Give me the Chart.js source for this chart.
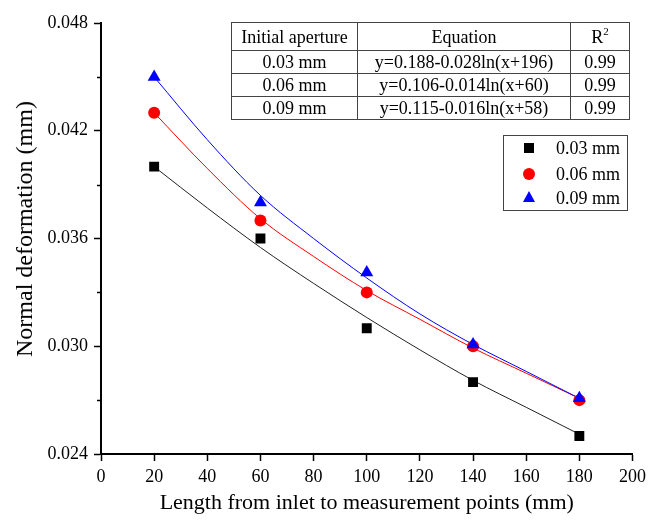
<!DOCTYPE html>
<html>
<head>
<meta charset="utf-8">
<script src="https://cdn.jsdelivr.net/npm/chart.js@4/dist/chart.umd.min.js"></script>
<style>
  html, body { margin: 0; padding: 0; background: #fff; }
  #wrap { position: relative; width: 651px; height: 523px; font-family: 'Liberation Serif', 'Times New Roman', serif; color: #000; }
  #c { position: absolute; left: 0; top: 0; }
  #ytitle { position: absolute; left: 23.6px; top: 229px; transform: translate(-50%, -50%) rotate(-90deg); white-space: nowrap; font-size: 24px; line-height: 24px; }
  #tbl { position: absolute; left: 231px; top: 22px; border-collapse: collapse; font-size: 18px; }
  #tbl td { border: 1px solid #444; padding: 0; text-align: center; vertical-align: middle; line-height: 18px; white-space: nowrap; }
  #tbl tr.h td { height: 27px; }
  #tbl tr.r td { height: 22px; }
  #tbl sup { font-size: 11px; vertical-align: 8px; line-height: 0; }
  #legend { position: absolute; left: 503px; top: 135px; width: 123px; height: 74px; border: 1px solid #444; font-size: 18px; }
  .li { position: absolute; left: 0; height: 20px; width: 123px; }
  .li span.t { position: absolute; left: 52px; top: 0; line-height: 20px; }
  .mk { position: absolute; }
  .sq { width: 10px; height: 10px; background: #000; left: 20px; top: 5px; }
  .ci { width: 12px; height: 12px; border-radius: 50%; background: #f00; left: 19px; top: 4px; }
  .tr { width: 0; height: 0; border-left: 6.5px solid transparent; border-right: 6.5px solid transparent; border-bottom: 11px solid #00f; left: 18.5px; top: 3px; }
</style>
</head>
<body>
<div id="wrap">
  <canvas id="c" width="651" height="523"></canvas>
  <div id="ytitle">Normal deformation (mm)</div>
  <table id="tbl"></table>
  <div id="legend"></div>
</div>
<script>
// ---- Data ----
const xPoints = [20, 60, 100, 140, 180];
const seriesNames = ['0.03 mm', '0.06 mm', '0.09 mm'];
const meas003 = [0.0400, 0.0360, 0.0310, 0.0280, 0.0250];
const meas006 = [0.0430, 0.0370, 0.0330, 0.0300, 0.0270];
const meas009 = [0.0450, 0.0380, 0.0341, 0.0301, 0.0271];

// fitted curves, read at intervals from the picture
const fitX = [20, 40, 60, 80, 100, 120, 140, 160, 180];
const fit003 = [0.0400, 0.0377, 0.0355, 0.0335, 0.0316, 0.0298, 0.0281, 0.0266, 0.0251];
const fit006 = [0.0430, 0.0399, 0.0371, 0.0350, 0.0331, 0.0315, 0.0299, 0.0285, 0.0271];
const fit009 = [0.0450, 0.0415, 0.0384, 0.0360, 0.0338, 0.0318, 0.0301, 0.0286, 0.0271];

// axes
const xTicks = [0, 20, 40, 60, 80, 100, 120, 140, 160, 180, 200];
const yTicks = [0.024, 0.030, 0.036, 0.042, 0.048];
const yTickLabels = ['0.024', '0.030', '0.036', '0.042', '0.048'];
const yMinorTicks = [0.027, 0.033, 0.039, 0.045];
const xTitle = 'Length from inlet to measurement points (mm)';

// table
const tableHeader = ['Initial aperture', 'Equation', 'R'];
const tableApertures = ['0.03 mm', '0.06 mm', '0.09 mm'];
const tableEquations = ['y=0.188-0.028ln(x+196)', 'y=0.106-0.014ln(x+60)', 'y=0.115-0.016ln(x+58)'];
const tableR2 = ['0.99', '0.99', '0.99'];

// ---- Table ----
(function buildTable() {
  const t = document.getElementById('tbl');
  const colW = [125, 212, 58];
  let html = '<tr class="h">';
  html += `<td style="width:${colW[0]}px">${tableHeader[0]}</td>`;
  html += `<td style="width:${colW[1]}px">${tableHeader[1]}</td>`;
  html += `<td style="width:${colW[2]}px">${tableHeader[2]}<sup>2</sup></td></tr>`;
  for (let i = 0; i < tableApertures.length; i++) {
    html += `<tr class="r"><td>${tableApertures[i]}</td><td>${tableEquations[i]}</td><td>${tableR2[i]}</td></tr>`;
  }
  t.innerHTML = html;
})();

// ---- Legend ----
(function buildLegend() {
  const lg = document.getElementById('legend');
  const cls = ['sq', 'ci', 'tr'];
  const tops = [2, 28, 52];
  lg.innerHTML = seriesNames.map((n, i) =>
    `<div class="li" style="top:${tops[i]}px"><div class="mk ${cls[i]}"></div><span class="t">${n}</span></div>`
  ).join('');
})();

const toXY = (xs, ys) => xs.map((x, i) => ({ x: x, y: ys[i] }));

const minorTickPlugin = {
  id: 'minorTicks',
  afterDraw(chart) {
    const ys = chart.scales.y;
    const ctx = chart.ctx;
    ctx.save();
    ctx.strokeStyle = '#000';
    ctx.lineWidth = 1.5;
    yMinorTicks.forEach(v => {
      const py = Math.round(ys.getPixelForValue(v)) + 0.5;
      ctx.beginPath();
      ctx.moveTo(ys.right - 4, py);
      ctx.lineTo(ys.right, py);
      ctx.stroke();
    });
    ctx.restore();
  }
};

const serif = 'Liberation Serif';

new Chart(document.getElementById('c'), {
  data: {
    datasets: [
      { type: 'scatter', label: seriesNames[2], data: toXY(xPoints, meas009), pointStyle: 'triangle', pointRadius: 7.5, pointBackgroundColor: '#00f', pointBorderWidth: 0, borderColor: '#00f', order: 1 },
      { type: 'scatter', label: seriesNames[1], data: toXY(xPoints, meas006), pointStyle: 'circle', pointRadius: 6, pointBackgroundColor: '#f00', pointBorderWidth: 0, borderColor: '#f00', order: 2 },
      { type: 'scatter', label: seriesNames[0], data: toXY(xPoints, meas003), pointStyle: 'rect', pointRadius: 7, pointBackgroundColor: '#000', pointBorderWidth: 0, borderColor: '#000', order: 3 },
      { type: 'line', label: 'fit 0.09', data: toXY(fitX, fit009), borderColor: '#00f', borderWidth: 1, pointRadius: 0, cubicInterpolationMode: 'monotone', fill: false, order: 4 },
      { type: 'line', label: 'fit 0.06', data: toXY(fitX, fit006), borderColor: '#f00', borderWidth: 1, pointRadius: 0, cubicInterpolationMode: 'monotone', fill: false, order: 5 },
      { type: 'line', label: 'fit 0.03', data: toXY(fitX, fit003), borderColor: '#222', borderWidth: 1, pointRadius: 0, cubicInterpolationMode: 'monotone', fill: false, order: 6 }
    ]
  },
  options: {
    responsive: false,
    animation: false,
    devicePixelRatio: 1,
    layout: { padding: { top: 23, right: 14, left: 0, bottom: 0 } },
    plugins: { legend: { display: false }, tooltip: { enabled: false }, title: { display: false } },
    scales: {
      x: {
        type: 'linear', position: 'bottom', min: 0, max: 200,
        afterBuildTicks: (s) => { s.ticks = xTicks.map(v => ({ value: v })); },
        afterFit: (s) => { s.height = 69; },
        ticks: { font: { family: serif, size: 18 }, color: '#000', padding: 5, maxRotation: 0, autoSkip: false },
        grid: { drawOnChartArea: false, drawTicks: true, tickLength: 7, tickColor: '#000', tickWidth: 1.5 },
        border: { display: true, color: '#000', width: 2 },
        title: { display: true, text: xTitle, font: { family: serif, size: 22 }, color: '#000', padding: { top: 0, bottom: 7 } }
      },
      y: {
        type: 'linear', position: 'left', min: 0.024, max: 0.048,
        afterBuildTicks: (s) => { s.ticks = yTicks.map(v => ({ value: v })); },
        afterFit: (s) => { s.width = 101; },
        ticks: {
          font: { family: serif, size: 18 }, color: '#000', padding: 6, autoSkip: false,
          callback: (v) => { const i = yTicks.findIndex(t => Math.abs(t - v) < 1e-9); return i >= 0 ? yTickLabels[i] : ''; }
        },
        grid: { drawOnChartArea: false, drawTicks: true, tickLength: 7, tickColor: '#000', tickWidth: 1.5 },
        border: { display: true, color: '#000', width: 2 },
        title: { display: false }
      }
    }
  },
  plugins: [minorTickPlugin]
});
</script>
</body>
</html>
